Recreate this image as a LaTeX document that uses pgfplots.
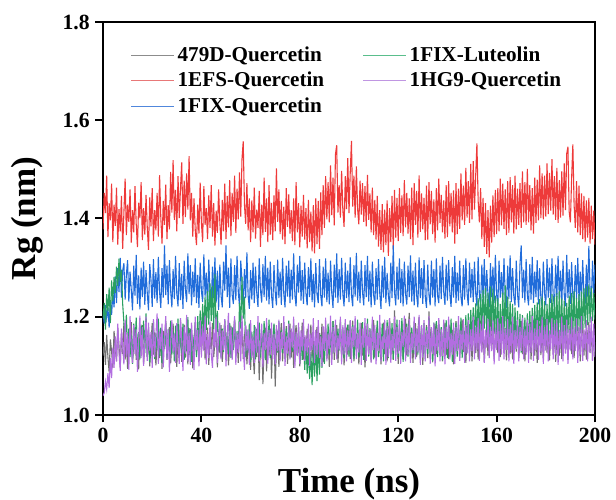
\documentclass[border=0pt]{standalone}
\usepackage{pgfplots}
\usepackage{pgfplotstable}
\pgfplotsset{compat=1.18}
\usepackage{fontspec}
\setmainfont{Liberation Serif}
\definecolor{cD}{RGB}{112,112,112}
\definecolor{cE}{RGB}{238,58,58}
\definecolor{cQ}{RGB}{32,108,218}
\definecolor{cL}{RGB}{42,160,96}
\definecolor{cH}{RGB}{178,110,224}
\definecolor{lD}{RGB}{140,140,140}
\definecolor{lE}{RGB}{232,120,120}
\definecolor{lQ}{RGB}{80,135,220}
\definecolor{lL}{RGB}{90,190,140}
\definecolor{lH}{RGB}{192,150,226}
\pgfplotstableread{
t D E Q L H
0 1.121 1.378 1.212 1.196 1.039
0.5 1.148 1.452 1.186 1.228 1.045
1 1.102 1.411 1.224 1.174 1.068
1.5 1.163 1.487 1.197 1.246 1.052
2 1.118 1.362 1.219 1.211 1.085
2.5 1.087 1.431 1.178 1.259 1.055
3 1.154 1.396 1.231 1.187 1.116
3.5 1.129 1.471 1.204 1.274 1.075
4 1.096 1.352 1.248 1.232 1.137
4.5 1.171 1.428 1.219 1.281 1.096
5 1.134 1.385 1.282 1.248 1.160
5.5 1.109 1.463 1.228 1.302 1.109
6 1.178 1.347 1.299 1.263 1.186
6.5 1.142 1.419 1.250 1.318 1.127
7 1.098 1.374 1.320 1.271 1.090
7.5 1.166 1.446 1.239 1.296 1.176
8 1.124 1.338 1.294 1.226 1.138
8.5 1.187 1.412 1.309 1.188 1.103
9 1.113 1.481 1.235 1.157 1.194
9.5 1.152 1.366 1.286 1.204 1.118
10 1.094 1.428 1.315 1.131 1.167
10.5 1.168 1.393 1.231 1.176 1.092
11 1.131 1.459 1.292 1.118 1.201
11.5 1.189 1.351 1.254 1.163 1.137
12 1.107 1.417 1.213 1.104 1.106
12.5 1.146 1.372 1.304 1.186 1.183
13 1.177 1.466 1.243 1.142 1.124
13.5 1.112 1.389 1.326 1.198 1.174
14 1.158 1.342 1.226 1.121 1.088
14.5 1.093 1.432 1.284 1.169 1.153
15 1.172 1.401 1.215 1.113 1.202
15.5 1.126 1.474 1.300 1.184 1.116
16 1.183 1.356 1.240 1.137 1.179
16.5 1.104 1.421 1.312 1.192 1.100
17 1.151 1.367 1.224 1.126 1.148
17.5 1.196 1.448 1.295 1.207 1.200
18 1.118 1.381 1.248 1.119 1.110
18.5 1.164 1.336 1.213 1.173 1.188
19 1.099 1.443 1.307 1.108 1.131
19.5 1.142 1.384 1.275 1.158 1.169
20 1.187 1.462 1.220 1.129 1.096
20.5 1.123 1.354 1.317 1.191 1.195
21 1.168 1.417 1.237 1.114 1.118
21.5 1.101 1.376 1.291 1.167 1.162
22 1.147 1.452 1.228 1.132 1.207
22.5 1.182 1.363 1.322 1.196 1.104
23 1.116 1.488 1.250 1.121 1.170
23.5 1.159 1.402 1.218 1.178 1.134
24 1.094 1.349 1.299 1.106 1.186
24.5 1.171 1.436 1.239 1.163 1.097
25 1.134 1.387 1.345 1.134 1.155
25.5 1.191 1.469 1.244 1.187 1.201
26 1.112 1.358 1.304 1.117 1.113
26.5 1.156 1.427 1.225 1.174 1.174
27 1.179 1.378 1.315 1.128 1.088
27.5 1.105 1.495 1.253 1.192 1.145
28 1.148 1.412 1.219 1.123 1.193
28.5 1.186 1.519 1.297 1.171 1.127
29 1.127 1.397 1.236 1.109 1.166
29.5 1.163 1.458 1.324 1.182 1.106
30 1.098 1.374 1.247 1.138 1.187
30.5 1.174 1.486 1.221 1.196 1.137
31 1.139 1.401 1.309 1.119 1.104
31.5 1.193 1.461 1.234 1.164 1.197
32 1.108 1.514 1.287 1.126 1.151
32.5 1.153 1.389 1.216 1.186 1.090
33 1.184 1.477 1.314 1.112 1.180
33.5 1.117 1.403 1.255 1.159 1.125
34 1.162 1.492 1.230 1.131 1.204
34.5 1.103 1.418 1.329 1.199 1.109
35 1.177 1.527 1.246 1.122 1.167
35.5 1.131 1.396 1.305 1.176 1.102
36 1.166 1.452 1.223 1.108 1.188
36.5 1.095 1.363 1.292 1.163 1.141
37 1.151 1.441 1.240 1.127 1.092
37.5 1.188 1.376 1.319 1.189 1.200
38 1.122 1.346 1.228 1.118 1.132
38.5 1.167 1.428 1.285 1.201 1.173
39 1.109 1.369 1.218 1.141 1.099
39.5 1.181 1.473 1.310 1.213 1.193
40 1.128 1.392 1.253 1.152 1.117
40.5 1.157 1.352 1.230 1.226 1.181
41 1.194 1.466 1.327 1.167 1.130
41.5 1.113 1.387 1.241 1.241 1.202
42 1.146 1.421 1.290 1.173 1.103
42.5 1.178 1.358 1.219 1.252 1.165
43 1.102 1.447 1.316 1.184 1.116
43.5 1.161 1.381 1.248 1.268 1.190
44 1.134 1.468 1.225 1.191 1.124
44.5 1.187 1.363 1.302 1.263 1.096
45 1.118 1.431 1.238 1.174 1.174
45.5 1.149 1.345 1.321 1.287 1.137
46 1.172 1.416 1.229 1.156 1.200
46.5 1.097 1.371 1.294 1.212 1.106
47 1.164 1.459 1.214 1.131 1.159
47.5 1.126 1.392 1.306 1.183 1.188
48 1.183 1.347 1.243 1.117 1.113
48.5 1.108 1.438 1.219 1.176 1.172
49 1.155 1.374 1.312 1.128 1.132
49.5 1.191 1.471 1.253 1.194 1.195
50 1.119 1.358 1.345 1.112 1.099
50.5 1.168 1.446 1.240 1.168 1.162
51 1.101 1.382 1.300 1.124 1.208
51.5 1.147 1.478 1.218 1.187 1.118
52 1.182 1.364 1.319 1.116 1.179
52.5 1.116 1.452 1.245 1.179 1.112
53 1.161 1.393 1.226 1.132 1.158
53.5 1.193 1.487 1.305 1.196 1.201
54 1.124 1.371 1.234 1.119 1.102
54.5 1.153 1.461 1.324 1.171 1.167
55 1.106 1.398 1.250 1.133 1.127
55.5 1.176 1.494 1.221 1.228 1.190
56 1.137 1.404 1.314 1.176 1.109
56.5 1.189 1.521 1.274 1.281 1.202
57 1.114 1.557 1.223 1.196 1.138
57.5 1.158 1.428 1.297 1.241 1.092
58 1.181 1.389 1.238 1.118 1.183
58.5 1.103 1.472 1.331 1.174 1.131
59 1.149 1.376 1.243 1.126 1.174
59.5 1.176 1.441 1.216 1.186 1.102
60 1.092 1.352 1.295 1.108 1.193
60.5 1.161 1.437 1.235 1.169 1.117
61 1.124 1.372 1.310 1.121 1.160
61.5 1.083 1.463 1.228 1.183 1.106
62 1.156 1.359 1.302 1.113 1.180
62.5 1.118 1.418 1.249 1.176 1.127
63 1.174 1.381 1.220 1.129 1.201
63.5 1.071 1.456 1.319 1.188 1.109
64 1.138 1.342 1.256 1.117 1.148
64.5 1.167 1.428 1.229 1.172 1.186
65 1.063 1.366 1.307 1.124 1.097
65.5 1.142 1.483 1.240 1.191 1.167
66 1.178 1.373 1.324 1.112 1.132
66.5 1.089 1.441 1.233 1.177 1.197
67 1.153 1.352 1.300 1.131 1.104
67.5 1.121 1.468 1.225 1.194 1.173
68 1.176 1.367 1.312 1.116 1.123
68.5 1.074 1.432 1.244 1.169 1.188
69 1.148 1.356 1.218 1.122 1.114
69.5 1.183 1.447 1.305 1.186 1.165
70 1.058 1.374 1.251 1.109 1.103
70.5 1.136 1.502 1.223 1.176 1.183
71 1.171 1.393 1.316 1.127 1.130
71.5 1.098 1.459 1.238 1.191 1.194
72 1.152 1.368 1.292 1.118 1.109
72.5 1.187 1.436 1.224 1.172 1.169
73 1.109 1.357 1.320 1.126 1.134
73.5 1.163 1.424 1.246 1.189 1.201
74 1.126 1.348 1.219 1.114 1.100
74.5 1.181 1.462 1.304 1.176 1.160
75 1.104 1.383 1.241 1.123 1.125
75.5 1.149 1.449 1.314 1.192 1.186
76 1.186 1.369 1.228 1.117 1.113
76.5 1.117 1.417 1.296 1.168 1.176
77 1.162 1.354 1.235 1.129 1.137
77.5 1.096 1.441 1.329 1.187 1.200
78 1.157 1.346 1.244 1.108 1.096
78.5 1.183 1.474 1.221 1.164 1.169
79 1.121 1.372 1.306 1.121 1.120
79.5 1.168 1.431 1.249 1.179 1.188
80 1.099 1.341 1.324 1.103 1.104
80.5 1.147 1.426 1.233 1.158 1.172
81 1.188 1.363 1.295 1.112 1.131
81.5 1.113 1.448 1.226 1.171 1.195
82 1.159 1.357 1.310 1.092 1.110
82.5 1.124 1.421 1.248 1.146 1.162
83 1.176 1.339 1.223 1.084 1.127
83.5 1.102 1.438 1.301 1.137 1.186
84 1.141 1.352 1.240 1.073 1.100
84.5 1.184 1.414 1.319 1.128 1.166
85 1.117 1.333 1.230 1.061 1.132
85.5 1.163 1.427 1.287 1.142 1.197
86 1.094 1.329 1.219 1.078 1.106
86.5 1.152 1.441 1.309 1.151 1.173
87 1.179 1.348 1.246 1.069 1.123
87.5 1.111 1.436 1.228 1.146 1.193
88 1.167 1.338 1.317 1.082 1.116
88.5 1.128 1.453 1.244 1.163 1.160
89 1.186 1.366 1.221 1.096 1.099
89.5 1.107 1.468 1.302 1.168 1.181
90 1.154 1.381 1.239 1.104 1.130
90.5 1.181 1.486 1.319 1.172 1.198
91 1.116 1.398 1.230 1.116 1.109
91.5 1.162 1.474 1.290 1.186 1.166
92 1.098 1.392 1.225 1.122 1.134
92.5 1.173 1.508 1.314 1.178 1.202
93 1.129 1.407 1.248 1.113 1.102
93.5 1.191 1.483 1.218 1.191 1.179
94 1.112 1.386 1.306 1.127 1.127
94.5 1.158 1.531 1.239 1.184 1.194
95 1.183 1.549 1.329 1.118 1.113
95.5 1.106 1.412 1.228 1.176 1.162
96 1.147 1.468 1.297 1.131 1.132
96.5 1.188 1.402 1.235 1.193 1.200
97 1.119 1.497 1.320 1.121 1.103
97.5 1.169 1.417 1.246 1.178 1.183
98 1.101 1.383 1.221 1.115 1.123
98.5 1.154 1.486 1.310 1.188 1.195
99 1.178 1.419 1.238 1.126 1.109
99.5 1.123 1.523 1.294 1.184 1.172
100 1.184 1.411 1.230 1.119 1.131
100.5 1.114 1.493 1.321 1.191 1.193
101 1.158 1.558 1.244 1.127 1.106
101.5 1.192 1.424 1.221 1.183 1.180
102 1.109 1.487 1.305 1.114 1.138
102.5 1.166 1.402 1.241 1.176 1.201
103 1.131 1.506 1.330 1.129 1.114
103.5 1.179 1.419 1.233 1.194 1.167
104 1.103 1.388 1.292 1.117 1.127
104.5 1.152 1.477 1.228 1.172 1.188
105 1.187 1.408 1.314 1.123 1.102
105.5 1.121 1.472 1.250 1.189 1.176
106 1.163 1.393 1.223 1.112 1.137
106.5 1.097 1.466 1.305 1.167 1.197
107 1.151 1.384 1.240 1.128 1.110
107.5 1.186 1.489 1.324 1.196 1.186
108 1.126 1.397 1.231 1.119 1.123
108.5 1.172 1.451 1.294 1.177 1.174
109 1.108 1.372 1.219 1.124 1.106
109.5 1.161 1.463 1.312 1.188 1.200
110 1.193 1.366 1.245 1.113 1.132
110.5 1.116 1.438 1.224 1.171 1.183
111 1.148 1.357 1.299 1.126 1.103
111.5 1.184 1.446 1.235 1.192 1.167
112 1.119 1.343 1.317 1.118 1.130
112.5 1.166 1.417 1.248 1.179 1.204
113 1.103 1.336 1.216 1.121 1.109
113.5 1.157 1.429 1.304 1.186 1.160
114 1.188 1.331 1.239 1.109 1.134
114.5 1.124 1.418 1.322 1.174 1.194
115 1.171 1.346 1.228 1.127 1.102
115.5 1.109 1.437 1.289 1.193 1.181
116 1.162 1.324 1.243 1.116 1.118
116.5 1.197 1.421 1.221 1.181 1.197
117 1.131 1.352 1.310 1.122 1.106
117.5 1.176 1.446 1.238 1.187 1.165
118 1.112 1.337 1.345 1.114 1.131
118.5 1.213 1.458 1.250 1.176 1.200
119 1.143 1.361 1.223 1.129 1.110
119.5 1.182 1.442 1.302 1.194 1.179
120 1.104 1.354 1.235 1.118 1.125
120.5 1.168 1.462 1.319 1.183 1.193
121 1.127 1.371 1.228 1.124 1.104
121.5 1.189 1.447 1.297 1.197 1.169
122 1.113 1.364 1.221 1.108 1.138
122.5 1.159 1.478 1.312 1.172 1.202
123 1.196 1.382 1.246 1.127 1.109
123.5 1.121 1.452 1.225 1.186 1.180
124 1.167 1.369 1.304 1.119 1.123
124.5 1.208 1.441 1.240 1.191 1.195
125 1.136 1.358 1.325 1.114 1.106
125.5 1.174 1.463 1.231 1.178 1.166
126 1.106 1.346 1.294 1.126 1.132
126.5 1.161 1.472 1.223 1.189 1.200
127 1.187 1.387 1.310 1.117 1.113
127.5 1.118 1.456 1.244 1.176 1.176
128 1.172 1.361 1.219 1.123 1.127
128.5 1.199 1.488 1.321 1.194 1.204
129 1.129 1.373 1.238 1.112 1.102
129.5 1.164 1.451 1.299 1.183 1.183
130 1.102 1.378 1.226 1.121 1.117
130.5 1.171 1.442 1.315 1.187 1.193
131 1.138 1.356 1.241 1.114 1.109
131.5 1.183 1.467 1.218 1.179 1.172
132 1.116 1.357 1.306 1.124 1.134
132.5 1.211 1.474 1.245 1.196 1.201
133 1.143 1.388 1.223 1.118 1.104
133.5 1.179 1.456 1.314 1.174 1.179
134 1.107 1.368 1.239 1.109 1.124
134.5 1.163 1.439 1.297 1.188 1.188
135 1.186 1.351 1.221 1.126 1.099
135.5 1.124 1.462 1.319 1.191 1.176
136 1.168 1.376 1.243 1.118 1.131
136.5 1.193 1.481 1.228 1.184 1.197
137 1.131 1.391 1.304 1.122 1.109
137.5 1.176 1.448 1.236 1.179 1.174
138 1.109 1.372 1.322 1.111 1.120
138.5 1.156 1.437 1.251 1.186 1.194
139 1.188 1.359 1.224 1.124 1.103
139.5 1.122 1.468 1.306 1.193 1.180
140 1.169 1.362 1.233 1.116 1.134
140.5 1.114 1.476 1.315 1.182 1.200
141 1.184 1.384 1.246 1.121 1.113
141.5 1.138 1.452 1.220 1.196 1.167
142 1.173 1.372 1.301 1.108 1.123
142.5 1.103 1.457 1.239 1.177 1.188
143 1.158 1.349 1.324 1.127 1.104
143.5 1.191 1.472 1.228 1.188 1.179
144 1.124 1.368 1.290 1.119 1.130
144.5 1.178 1.461 1.233 1.184 1.201
145 1.116 1.379 1.314 1.126 1.110
145.5 1.166 1.492 1.241 1.198 1.172
146 1.194 1.396 1.221 1.116 1.132
146.5 1.128 1.467 1.305 1.181 1.195
147 1.171 1.387 1.235 1.132 1.106
147.5 1.106 1.503 1.319 1.203 1.183
148 1.162 1.402 1.248 1.127 1.125
148.5 1.187 1.476 1.223 1.207 1.193
149 1.121 1.391 1.310 1.138 1.109
149.5 1.176 1.511 1.239 1.214 1.174
150 1.109 1.398 1.297 1.146 1.130
150.5 1.163 1.517 1.230 1.219 1.200
151 1.189 1.418 1.312 1.153 1.113
151.5 1.126 1.487 1.248 1.227 1.179
152 1.172 1.553 1.221 1.161 1.132
152.5 1.113 1.436 1.322 1.238 1.197
153 1.167 1.392 1.243 1.166 1.110
153.5 1.192 1.462 1.225 1.246 1.186
154 1.129 1.358 1.306 1.172 1.127
154.5 1.176 1.442 1.238 1.254 1.202
155 1.108 1.342 1.317 1.176 1.106
155.5 1.159 1.431 1.229 1.258 1.173
156 1.184 1.328 1.295 1.168 1.137
156.5 1.121 1.417 1.244 1.249 1.195
157 1.172 1.321 1.220 1.159 1.116
157.5 1.199 1.426 1.309 1.262 1.180
158 1.133 1.351 1.240 1.171 1.130
158.5 1.178 1.447 1.302 1.257 1.193
159 1.114 1.362 1.228 1.164 1.103
159.5 1.166 1.458 1.326 1.243 1.176
160 1.189 1.368 1.246 1.158 1.132
160.5 1.126 1.462 1.221 1.238 1.197
161 1.171 1.374 1.314 1.152 1.110
161.5 1.118 1.481 1.239 1.226 1.186
162 1.164 1.386 1.291 1.147 1.123
162.5 1.193 1.471 1.230 1.249 1.201
163 1.127 1.379 1.319 1.161 1.113
163.5 1.177 1.459 1.245 1.264 1.176
164 1.111 1.366 1.218 1.156 1.132
164.5 1.162 1.476 1.304 1.241 1.195
165 1.187 1.371 1.236 1.149 1.109
165.5 1.124 1.484 1.325 1.232 1.180
166 1.176 1.392 1.230 1.143 1.127
166.5 1.113 1.468 1.299 1.226 1.200
167 1.168 1.369 1.241 1.138 1.104
167.5 1.196 1.487 1.223 1.219 1.173
168 1.129 1.378 1.314 1.134 1.134
168.5 1.181 1.461 1.246 1.212 1.194
169 1.116 1.387 1.219 1.131 1.109
169.5 1.169 1.472 1.306 1.206 1.179
170 1.191 1.381 1.345 1.127 1.130
170.5 1.124 1.496 1.238 1.203 1.198
171 1.174 1.392 1.296 1.134 1.113
171.5 1.109 1.474 1.229 1.198 1.174
172 1.163 1.387 1.317 1.129 1.123
172.5 1.189 1.501 1.244 1.207 1.194
173 1.127 1.392 1.223 1.138 1.106
173.5 1.178 1.468 1.307 1.212 1.186
174 1.113 1.376 1.235 1.141 1.127
174.5 1.166 1.462 1.322 1.218 1.201
175 1.192 1.369 1.228 1.146 1.110
175.5 1.121 1.483 1.292 1.224 1.176
176 1.174 1.391 1.240 1.152 1.132
176.5 1.106 1.479 1.315 1.229 1.193
177 1.158 1.396 1.225 1.157 1.112
177.5 1.186 1.508 1.299 1.236 1.181
178 1.122 1.401 1.238 1.161 1.127
178.5 1.176 1.492 1.221 1.241 1.200
179 1.114 1.398 1.312 1.154 1.104
179.5 1.168 1.487 1.248 1.232 1.179
180 1.193 1.404 1.223 1.148 1.131
180.5 1.127 1.512 1.317 1.226 1.195
181 1.178 1.409 1.239 1.157 1.109
181.5 1.111 1.493 1.300 1.238 1.172
182 1.164 1.416 1.228 1.163 1.134
182.5 1.189 1.521 1.319 1.246 1.197
183 1.124 1.408 1.243 1.158 1.113
183.5 1.172 1.486 1.219 1.241 1.186
184 1.108 1.397 1.306 1.152 1.123
184.5 1.161 1.503 1.240 1.248 1.193
185 1.187 1.391 1.324 1.161 1.102
185.5 1.121 1.478 1.234 1.253 1.173
186 1.174 1.402 1.294 1.158 1.134
186.5 1.114 1.496 1.223 1.237 1.200
187 1.167 1.406 1.314 1.149 1.109
187.5 1.193 1.512 1.245 1.233 1.183
188 1.126 1.417 1.221 1.154 1.125
188.5 1.176 1.532 1.326 1.228 1.194
189 1.112 1.546 1.238 1.167 1.104
189.5 1.161 1.414 1.297 1.243 1.174
190 1.188 1.392 1.226 1.162 1.131
190.5 1.124 1.482 1.311 1.248 1.198
191 1.172 1.551 1.243 1.168 1.113
191.5 1.116 1.428 1.228 1.252 1.179
192 1.166 1.381 1.305 1.159 1.130
192.5 1.191 1.476 1.236 1.238 1.195
193 1.129 1.372 1.320 1.171 1.106
193.5 1.178 1.467 1.233 1.246 1.180
194 1.109 1.366 1.292 1.166 1.123
194.5 1.162 1.451 1.231 1.251 1.201
195 1.186 1.358 1.315 1.174 1.110
195.5 1.121 1.446 1.246 1.258 1.174
196 1.171 1.352 1.225 1.177 1.132
196.5 1.113 1.437 1.306 1.262 1.193
197 1.164 1.361 1.241 1.183 1.109
197.5 1.189 1.442 1.344 1.266 1.183
198 1.126 1.349 1.253 1.188 1.127
198.5 1.177 1.426 1.230 1.259 1.200
199 1.112 1.358 1.314 1.191 1.110
199.5 1.168 1.416 1.246 1.248 1.186
200 1.121 1.347 1.306 1.194 1.118
}\rg
\begin{document}
\begin{tikzpicture}
\begin{axis}[
  scale only axis,
  width=295.2pt, height=235.8pt,
  xmin=0, xmax=200, ymin=1.0, ymax=1.8,
  xtick={0,40,80,120,160,200},
  ytick={1.0,1.2,1.4,1.6,1.8},
  yticklabel style={/pgf/number format/.cd,fixed,fixed zerofill,precision=1},
  /pgf/number format/assume math mode=true,
  tick label style={font=\bfseries\fontsize{13}{13}\selectfont},
  xtick pos=bottom, ytick pos=left,
  tick align=outside,
  major tick length=4.5pt,
  axis line style={line width=1.2pt},
  every tick/.style={line width=1.2pt,black},
  xlabel={\textbf{Time (ns)}},
  ylabel={\textbf{Rg (nm)}},
  label style={font=\bfseries\fontsize{21}{21}\selectfont},
  xlabel style={yshift=-8pt},
  ylabel style={yshift=5pt},
  legend columns=2,
  legend cell align=left,
  legend style={draw=none, fill=none, at={(0.045,0.955)}, anchor=north west,
    font=\bfseries\fontsize{12.7}{12.7}\selectfont,
    /tikz/every even column/.append style={column sep=21pt},
    row sep=1pt},
  every axis plot/.append style={line width=0.65pt},
]
\addplot[cD, forget plot] table[x=t,y=D] {\rg};
\addplot[cE, forget plot] table[x=t,y=E] {\rg};
\addplot[cQ, forget plot] table[x=t,y=Q] {\rg};
\addplot[cL, forget plot] table[x=t,y=L] {\rg};
\addplot[cH, forget plot] table[x=t,y=H] {\rg};
\addlegendimage{legend image code/.code={\draw[draw=lD, line width=0.7pt] (0cm,0cm) -- (0.9cm,0cm);}}
\addlegendentry{479D-Quercetin}
\addlegendimage{legend image code/.code={\draw[draw=lL, line width=0.7pt] (0cm,0cm) -- (0.9cm,0cm);}}
\addlegendentry{1FIX-Luteolin}
\addlegendimage{legend image code/.code={\draw[draw=lE, line width=0.7pt] (0cm,0cm) -- (0.9cm,0cm);}}
\addlegendentry{1EFS-Quercetin}
\addlegendimage{legend image code/.code={\draw[draw=lH, line width=0.7pt] (0cm,0cm) -- (0.9cm,0cm);}}
\addlegendentry{1HG9-Quercetin}
\addlegendimage{legend image code/.code={\draw[draw=lQ, line width=0.7pt] (0cm,0cm) -- (0.9cm,0cm);}}
\addlegendentry{1FIX-Quercetin}
\end{axis}
\pgfresetboundingbox
\path ([shift={(-61.8pt,-51pt)}]current axis.south west) rectangle ([shift={(12.6pt,13.2pt)}]current axis.north east);
\end{tikzpicture}
\end{document}
